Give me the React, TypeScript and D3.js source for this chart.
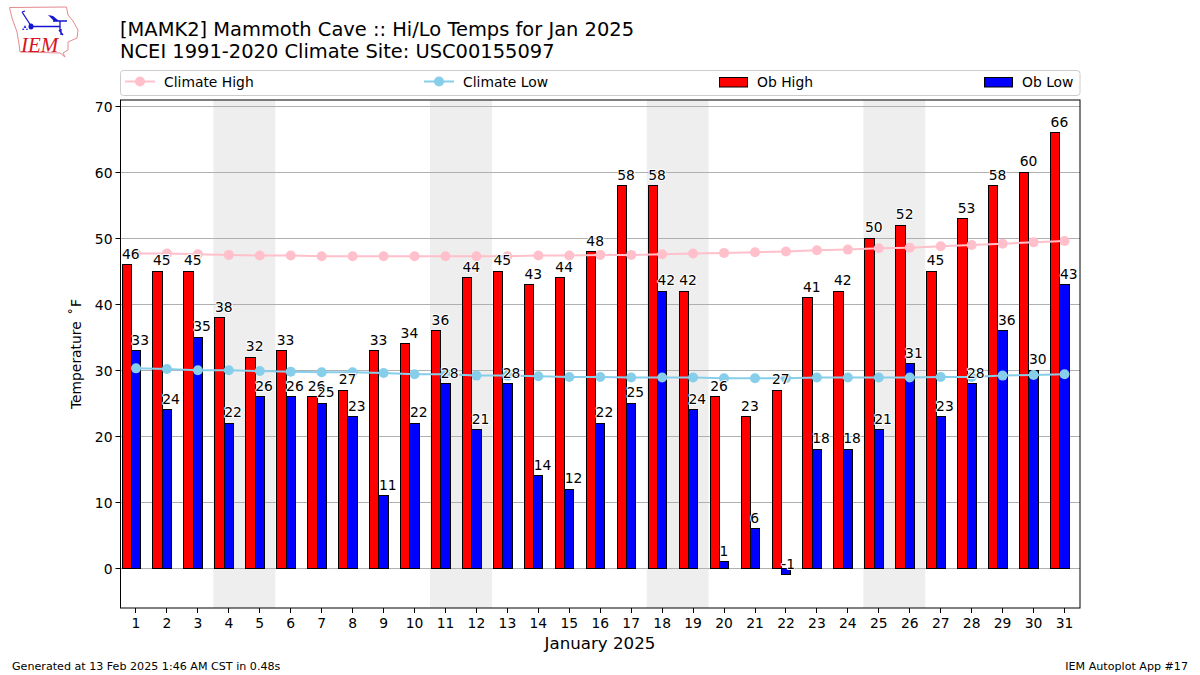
import React, { useEffect, useRef } from "react";
import * as d3 from "d3";

const days = d3.range(1, 32);
const obHigh = [46,45,45,38,32,33,26,27,33,34,36,44,45,43,44,48,58,58,42,26,23,27,41,42,50,52,45,53,58,60,66];
const obLow = [33,24,35,22,26,26,25,23,11,22,28,21,28,14,12,22,25,42,24,1,6,-1,18,18,21,31,23,28,36,30,43];
const climateHigh = [47.7,47.7,47.6,47.5,47.4,47.4,47.3,47.3,47.3,47.3,47.3,47.3,47.3,47.4,47.4,47.5,47.5,47.6,47.7,47.8,47.9,48,48.2,48.3,48.5,48.6,48.8,49,49.2,49.4,49.6];
const climateLow = [30.3,30.2,30,30,29.9,29.8,29.7,29.7,29.6,29.4,29.4,29.2,29.2,29.1,29,29,28.9,28.9,28.9,28.8,28.8,28.8,28.9,28.9,28.9,28.9,29,29,29.2,29.3,29.4];
const weekends: [number, number][] = [[3.5,5.5],[10.5,12.5],[17.5,19.5],[24.5,26.5]];
const yTicks = [0,10,20,30,40,50,60,70];
const titleLines = ["[MAMK2] Mammoth Cave :: Hi/Lo Temps for Jan 2025", "NCEI 1991-2020 Climate Site: USC00155097"];

const FONT = "DejaVu Sans";
const left = 120.5, right = 1080, top = 100, bottom = 608;
const barFrac = 0.3;
const snap = (v: number) => Math.round(v - 0.5) + 0.5;

export default function App() {
  const ref = useRef<SVGSVGElement>(null);
  useEffect(() => {
    const svg = d3.select(ref.current);
    svg.selectAll("*").remove();
    svg.attr("font-family", FONT);
    const x = d3.scaleLinear().domain([0.5, 31.5]).range([left, right]);
    const y = d3.scaleLinear().domain([-6.03, 70.98]).range([bottom, top]);

    // logo
    const logo = svg.append("g");
    logo.append("path")
      .attr("d", "M9.5,7.5 L66.5,7 L68,15 L73,21 L78,30 L77,38 L68,42 L68,50 L63,53 L65,57 L60,53 L20,52 L19,44 L17,32 L12,18 Z")
      .attr("fill", "none").attr("stroke", "#e58a90").attr("stroke-width", 1);
    logo.append("text").attr("x", 21).attr("y", 52).attr("font-family", "Liberation Serif")
      .attr("font-style", "italic").attr("font-size", 21).attr("fill", "#d8141e").text("IEM");
    logo.append("path")
      .attr("d", "M31,26.5 L60,26.5 M60,21 L60,30 M22,12 L30.5,25 M22,12 L25,11 M59,30 L63,35 M61,29 L61,35 M53,21 L67,21")
      .attr("fill", "none").attr("stroke", "#1414d2").attr("stroke-width", 1.3);
    logo.append("path").attr("d", "M48,15 L53,16 L59,21 L54,21 Z").attr("fill", "#1414d2");
    logo.append("ellipse").attr("cx", 31).attr("cy", 26.5).attr("rx", 2.5).attr("ry", 3).attr("fill", "#1414d2");
    logo.append("path").attr("d", "M25,25 L26.5,28 L23.5,28 Z M23,28 L24.5,30 L22,30 Z M27,28 L28,30 L26,30 Z").attr("fill", "#2a2ad8");

    // titles
    titleLines.forEach((t, i) => {
      svg.append("text").attr("x", 120).attr("y", 36 + i * 22).attr("font-size", 19.44).attr("fill", "#000").text(t);
    });

    // legend
    const lg = svg.append("g");
    lg.append("rect").attr("x", 120.5).attr("y", 70.5).attr("width", 959.5).attr("height", 25).attr("rx", 3)
      .attr("fill", "#fff").attr("stroke", "#cccccc");
    const lineEntry = (x0: number, color: string, label: string) => {
      lg.append("line").attr("x1", x0).attr("x2", x0 + 30).attr("y1", 81.5).attr("y2", 81.5).attr("stroke", color).attr("stroke-width", 2);
      lg.append("circle").attr("cx", x0 + 15).attr("cy", 81.5).attr("r", 5).attr("fill", color);
      lg.append("text").attr("x", x0 + 39).attr("y", 86.5).attr("font-size", 13.89).attr("fill", "#000").text(label);
    };
    const barEntry = (x0: number, color: string, label: string) => {
      lg.append("rect").attr("x", x0 + 0.5).attr("y", 77.5).attr("width", 28).attr("height", 9.5).attr("fill", color).attr("stroke", "#000").attr("stroke-width", 1);
      lg.append("text").attr("x", x0 + 38).attr("y", 86.5).attr("font-size", 13.89).attr("fill", "#000").text(label);
    };
    lineEntry(125, "pink", "Climate High");
    lineEntry(424, "skyblue", "Climate Low");
    barEntry(719, "red", "Ob High");
    barEntry(984, "blue", "Ob Low");

    // plot
    const plot = svg.append("g");
    plot.selectAll(".wk").data(weekends).join("rect")
      .attr("x", d => x(d[0])).attr("y", top).attr("width", d => x(d[1]) - x(d[0])).attr("height", bottom - top)
      .attr("fill", "#eeeeee");
    plot.selectAll(".grid").data(yTicks).join("line")
      .attr("x1", left).attr("x2", right).attr("y1", d => snap(y(d))).attr("y2", d => snap(y(d)))
      .attr("stroke", "#b0b0b0").attr("stroke-width", 1);

    const bars = (vals: number[], off: number, color: string) => {
      plot.append("g").selectAll("rect").data(vals).join("rect")
        .attr("x", (_, i) => snap(x(days[i] + off)))
        .attr("y", d => snap(y(Math.max(d, 0))))
        .attr("width", (_, i) => snap(x(days[i] + off + barFrac)) - snap(x(days[i] + off)))
        .attr("height", d => Math.abs(snap(y(d)) - snap(y(0))))
        .attr("fill", color).attr("stroke", "#000").attr("stroke-width", 1);
    };
    bars(obHigh, -0.45, "red");
    bars(obLow, -0.15, "blue");

    const series = (vals: number[], color: string) => {
      const gen = d3.line<number>().x((_, i) => x(days[i])).y(d => y(d));
      plot.append("path").attr("d", gen(vals)).attr("fill", "none").attr("stroke", color).attr("stroke-width", 2);
      plot.append("g").selectAll("circle").data(vals).join("circle")
        .attr("cx", (_, i) => x(days[i])).attr("cy", d => y(d)).attr("r", 5).attr("fill", color);
    };
    series(climateHigh, "pink");
    series(climateLow, "skyblue");

    const labels = (vals: number[], off: number) => {
      plot.append("g").selectAll("text").data(vals).join("text")
        .attr("x", (_, i) => x(days[i] + off))
        .attr("y", d => y(d) - 6)
        .attr("font-size", 13.89).attr("fill", "#000")
        .attr("stroke", "#fff").attr("stroke-width", 2).attr("stroke-linejoin", "round")
        .attr("paint-order", "stroke")
        .text(d => d);
    };
    labels(obHigh, -0.45);
    labels(obLow, -0.15);

    // frame
    svg.append("rect").attr("x", left).attr("y", top).attr("width", right - left).attr("height", bottom - top)
      .attr("fill", "none").attr("stroke", "#000").attr("stroke-width", 1);

    // axes
    const gx = svg.append("g");
    gx.selectAll("line").data(days).join("line")
      .attr("x1", d => snap(x(d))).attr("x2", d => snap(x(d))).attr("y1", bottom).attr("y2", bottom + 5).attr("stroke", "#000");
    gx.selectAll("text").data(days).join("text")
      .attr("x", d => x(d)).attr("y", bottom + 20).attr("text-anchor", "middle").attr("font-size", 13.89).text(d => d);
    const gy = svg.append("g");
    gy.selectAll("line").data(yTicks).join("line")
      .attr("x1", left - 5).attr("x2", left).attr("y1", d => snap(y(d))).attr("y2", d => snap(y(d))).attr("stroke", "#000");
    gy.selectAll("text").data(yTicks).join("text")
      .attr("x", left - 8).attr("y", d => y(d) + 5.5).attr("text-anchor", "end").attr("font-size", 13.89).text(d => d);

    svg.append("text").attr("x", 600).attr("y", 649).attr("text-anchor", "middle").attr("font-size", 16.67).text("January 2025");
    const yl = svg.append("text").attr("transform", "translate(81,354) rotate(-90)").attr("text-anchor", "middle").attr("font-size", 13.89);
    yl.append("tspan").text("Temperature ");
    yl.append("tspan").attr("dx", 2).text("˚");
    yl.append("tspan").attr("dx", 1).text("F");
    svg.append("text").attr("x", 12).attr("y", 670).attr("font-size", 11.11).text("Generated at 13 Feb 2025 1:46 AM CST in 0.48s");
    svg.append("text").attr("x", 1188).attr("y", 670).attr("text-anchor", "end").attr("font-size", 11.11).text("IEM Autoplot App #17");
  }, []);
  return (
    <svg ref={ref} width={1200} height={675} style={{ position: "absolute", left: 0, top: 0, background: "#fff" }} />
  );
}
